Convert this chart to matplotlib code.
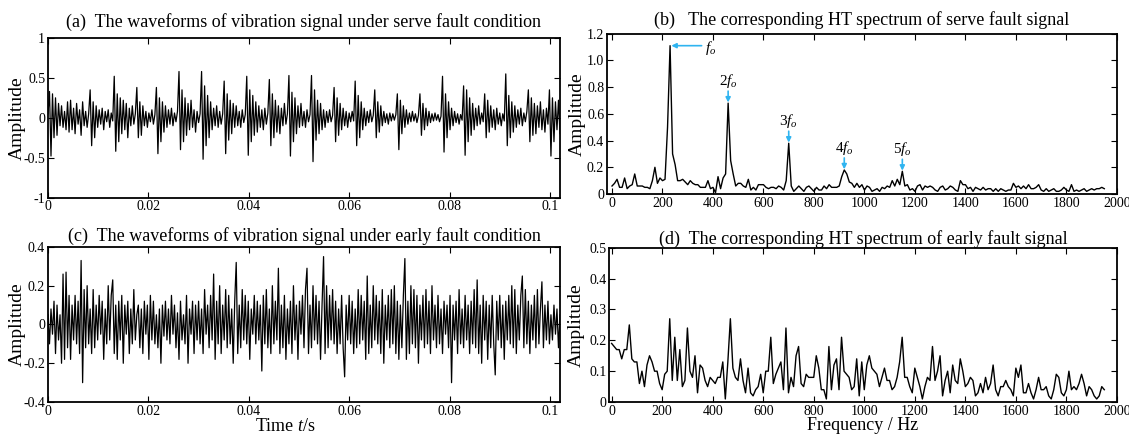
import matplotlib
matplotlib.use("Agg")
import matplotlib.pyplot as plt
import numpy as np

plt.rcParams['font.family'] = ['Liberation Serif', 'DejaVu Serif']
plt.rcParams['mathtext.fontset'] = 'custom'
plt.rcParams['mathtext.it'] = 'Liberation Serif:italic'
plt.rcParams['mathtext.rm'] = 'Liberation Serif'
plt.rcParams['axes.unicode_minus'] = False

# sampling step of the waveforms (s) and of the spectra (Hz)
dt = 0.0003
df = 10

# (a) serve fault waveform, hundredths
wave_serve = [
    5, 33, -48, 30, -25, 25, -22, 18, -10, 15, -12, 8, -15, 20, -18, 22, -15, 12, -20, 18, -8, 10, -22, 20, -10, 8, -12, 5,
    35, -35, 20, -25, 15, -12, 10, -8, 12, -15, 8, -5, 10, -12, 6, -4,
    52, -42, 30, -30, 25, -20, 22, -15, 18, -25, 12, -10, 15, -8, 5,
    38, -25, 20, -22, 15, -10, 8, -12, 6, -5, 10, -8, 4,
    38, -45, 25, -30, 20, -18, 15, -12, 10, -8, 12, -10, 6, -5, 8,
    58, -40, 35, -30, 25, -22, 18, -15, 22, -12, 10, -18, 8, -6, 5,
    58, -52, 40, -35, 28, -25, 20, -15, 12, -10, 15, -12, 8, -8, 5,
    46, -45, 30, -28, 22, -20, 18, -12, 15, -10, 8, -12, 10, -6, 4,
    52, -47, 35, -30, 28, -22, 20, -18, 15, -12, 10, -15, 12, -8, 6,
    48, -35, 30, -25, 22, -18, 15, -20, 12, -10, 18, -8, 5,
    53, -48, 32, -30, 25, -20, 15, -12, 18, -10, 8, -12, 10, -5, 4,
    53, -55, 35, -28, 22, -20, 18, -15, 10, -12, 8, -6, 10, -5, 3,
    38, -30, 25, -22, 18, -15, 12, -10, 8, -12, 6, -5, 8, -4,
    46, -35, 28, -25, 20, -15, 12, -10, 8, -6, 10, -5, 3,
    35, -25, 20, -18, 15, -10, 8, -6, 5, -8, 6, -4, 5, -3, 4,
    30, -40, 22, -20, 15, -12, 10, -8, 6, -5, 8, -4, 5, -6, 3,
    30, -22, 18, -15, 12, -10, 8, -6, 5, -4, 6, -3, 4, -5, 2,
    52, -43, 30, -25, 20, -15, 12, -10, 8, -6, 5, -8, 4, -3,
    40, -47, 35, -30, 25, -22, 18, -15, 12, -10, 15, -8, 6, -5,
    30, -25, 22, -18, 15, -12, 10, -15, 12, -8, 6, -10, 5, -4,
    55, -35, 28, -25, 20, -18, 15, -12, 10, -8, 12, -10, 6, -5, 8,
    35, -30, 25, -22, 18, -20, 15, -12, 20, -15, 10, -18, 12, -8,
    35, -48, 25, -30, 20, -15, 22, -20,
]

# (c) early fault waveform, hundredths
wave_early = [
    5, -10, 8, -5, 12, -15, 10, -8, 5, -20, 26, -18, 27, -12, 15, -18, 10, -8, 15, -10,
    12, -15, 33, -30, 18, -12, 20, -10, 8, -15, 18, -12, 10, -8, 15, -5, 12, -18, 8, -10,
    20, -8, 15, 23, -15, 10, -18, 12, -8, 15, -20, 10, -5, 12, -15, 8, -10, 18, -8, 5,
    10, -12, 8, -15, 12, -5, 10, -18, 15, -8, 12, -10, 5, -12, 8, -20, 10, -6, 12, -8,
    8, -10, 15, -5, 10, -12, 6, -18, 12, -8, 5, -10, 15, -20, 8, -5, 12, -15, 10, -8,
    12, -10, 8, -15, 18, -5, 10, -12, 15, -8, 26, -18, 12, -10, 20, -15, 10, -8, 18, -12,
    15, -10, 8, -20, 12, 32, -15, 10, -12, 18, -8, 15, -10, 12, -18, 8, -5, 15, -10, 12,
    -8, 10, -24, 15, -10, 18, -12, 8, -15, 20, -10, 12, -8, 29, -15, 10, -12, 15, -18, 8,
    -10, 12, -15, 20, -8, 10, -18, 12, -5, 15, -12, 18, 29, -15, 10, -12, 20, -8, 15, -10,
    12, -18, 10, 35, -15, 20, -12, 15, -8, 18, -10, 12, -15, 8, -10, 15, -12, -27, 10, -8,
    15, -10, 12, -15, 8, -12, 18, -10, 15, -8, 12, -18, 25, -15, 10, -12, 20, -8, 15, -10,
    12, -15, 18, -20, 10, -8, 15, -12, 18, -10, 20, -15, 12, -18, 10, -12, 15, 34, -18, 12,
    -15, 20, -10, 18, -12, 15, -20, 10, -8, 15, -12, 18, -10, 12, -15, 20, -8, 10, -12, 15,
    -10, 8, -15, 12, -5, 10, -12, 15, -30, 10, -8, 12, -15, 18, -10, 8, -12, 15, -8, 10,
    -15, 12, -10, 18, -12, 23, -15, 10, -20, 15, -8, 12, -18, 10, -12, 15, -10, -26, 12, -8,
    15, -12, 10, -18, 12, -8, 15, -10, 20, -12, 18, -15, 10, -8, 15, 25, -12, 18, -10, 12,
    -15, 10, -8, 15, -12, 18, -10, 8, 22, -12, 10, -8, 12, -10, 5, -8, 10, -5, 8, -12,
    5,
]

# (b) HT spectrum, serve fault (every 10 Hz from 0)
spec_serve = [
    0.06, 0.08, 0.11, 0.05, 0.05, 0.12, 0.04, 0.06, 0.07, 0.15,
    0.06, 0.06, 0.06, 0.05, 0.05, 0.04, 0.10, 0.20, 0.08, 0.12,
    0.10, 0.11, 0.50, 1.11, 0.30, 0.22, 0.10, 0.10, 0.11, 0.09,
    0.07, 0.10, 0.08, 0.07, 0.07, 0.05, 0.05, 0.05, 0.10, 0.04,
    0.05, 0.01, 0.13, 0.04, 0.12, 0.15, 0.68, 0.25, 0.15, 0.06,
    0.08, 0.08, 0.06, 0.05, 0.11, 0.03, 0.05, 0.03, 0.07, 0.07,
    0.07, 0.05, 0.04, 0.05, 0.05, 0.04, 0.06, 0.05, 0.03, 0.10,
    0.38, 0.06, 0.02, 0.04, 0.06, 0.04, 0.02, 0.05, 0.06, 0.04,
    0.02, 0.05, 0.03, 0.03, 0.06, 0.04, 0.07, 0.05, 0.05, 0.05,
    0.06, 0.13, 0.18, 0.15, 0.09, 0.08, 0.05, 0.08, 0.05, 0.07,
    0.03, 0.06, 0.05, 0.02, 0.03, 0.04, 0.02, 0.05, 0.04, 0.06,
    0.05, 0.10, 0.06, 0.11, 0.07, 0.17, 0.06, 0.07, 0.03, 0.04,
    0.02, 0.06, 0.07, 0.03, 0.06, 0.05, 0.06, 0.05, 0.03, 0.02,
    0.05, 0.06, 0.03, 0.04, 0.06, 0.05, 0.03, 0.02, 0.10, 0.07,
    0.07, 0.04, 0.05, 0.02, 0.05, 0.04, 0.03, 0.05, 0.03, 0.04,
    0.04, 0.02, 0.04, 0.02, 0.04, 0.03, 0.02, 0.03, 0.03, 0.08,
    0.05, 0.06, 0.04, 0.06, 0.04, 0.07, 0.04, 0.04, 0.05, 0.07,
    0.03, 0.02, 0.04, 0.02, 0.03, 0.04, 0.02, 0.02, 0.03, 0.05,
    0.03, 0.02, 0.07, 0.02, 0.03, 0.02, 0.03, 0.04, 0.02, 0.03,
    0.04, 0.03, 0.04, 0.04, 0.05, 0.04,
]

# (d) HT spectrum, early fault (every 10 Hz from 0)
spec_early = [
    0.19, 0.18, 0.17, 0.17, 0.14, 0.17, 0.17, 0.25, 0.14, 0.13,
    0.13, 0.06, 0.10, 0.05, 0.12, 0.15, 0.13, 0.10, 0.10, 0.06,
    0.04, 0.09, 0.10, 0.27, 0.07, 0.21, 0.07, 0.17, 0.05, 0.07,
    0.24, 0.10, 0.08, 0.15, 0.03, 0.12, 0.11, 0.07, 0.05, 0.08,
    0.07, 0.06, 0.08, 0.08, 0.13, 0.01, 0.13, 0.27, 0.11, 0.08,
    0.07, 0.14, 0.07, 0.03, 0.11, 0.03, 0.02, 0.04, 0.05, 0.09,
    0.03, 0.10, 0.10, 0.21, 0.06, 0.09, 0.11, 0.13, 0.04, 0.24,
    0.03, 0.08, 0.05, 0.15, 0.18, 0.06, 0.05, 0.09, 0.08, 0.08,
    0.08, 0.15, 0.11, 0.04, 0.04, 0.01, 0.18, 0.04, 0.12, 0.14,
    0.04, 0.21, 0.10, 0.09, 0.08, 0.04, 0.05, 0.14, 0.02, 0.13,
    0.04, 0.12, 0.15, 0.11, 0.10, 0.09, 0.05, 0.08, 0.11, 0.07,
    0.07, 0.04, 0.05, 0.08, 0.13, 0.21, 0.08, 0.08, 0.05, 0.03,
    0.11, 0.08, 0.05, 0.01, 0.05, 0.08, 0.07, 0.18, 0.07, 0.10,
    0.15, 0.02, 0.07, 0.10, 0.03, 0.12, 0.07, 0.06, 0.14, 0.10,
    0.05, 0.06, 0.08, 0.07, 0.02, 0.03, 0.06, 0.03, 0.08, 0.04,
    0.06, 0.12, 0.04, 0.02, 0.05, 0.05, 0.07, 0.05, 0.04, 0.02,
    0.11, 0.08, 0.12, 0.03, 0.03, 0.06, 0.03, 0.01, 0.04, 0.08,
    0.04, 0.04, 0.05, 0.02, 0.01, 0.04, 0.09, 0.08, 0.03, 0.02,
    0.04, 0.10, 0.04, 0.05, 0.04, 0.06, 0.09, 0.06, 0.02, 0.05,
    0.04, 0.02, 0.01, 0.02, 0.05, 0.04,
]

# harmonic labels in (b): (text, frequency, peak value)
harmonics = [("$2f_o$", 460, 0.68), ("$3f_o$", 700, 0.38),
             ("$4f_o$", 920, 0.18), ("$5f_o$", 1150, 0.17)]

titles = ["(a)  The waveforms of vibration signal under serve fault condition",
          "(b)   The corresponding HT spectrum of serve fault signal",
          "(c)  The waveforms of vibration signal under early fault condition",
          "(d)  The corresponding HT spectrum of early fault signal"]

arrow_c = '#2fb4f0'

fig = plt.figure(figsize=(11.29, 4.37), dpi=100)
ax_a = fig.add_axes([0.0425, 0.548, 0.4535, 0.365])
ax_b = fig.add_axes([0.5376, 0.556, 0.4517, 0.367])
ax_c = fig.add_axes([0.0425, 0.08, 0.4535, 0.355])
ax_d = fig.add_axes([0.5395, 0.08, 0.4498, 0.353])


def style(ax, lx):
    ax.tick_params(direction='in', top=True, right=True, labelsize=10,
                   length=4, width=0.8, pad=2)
    for s in ax.spines.values():
        s.set_linewidth(1.3)
    ax.set_ylabel("Amplitude", fontsize=14)
    ax.yaxis.set_label_coords(lx, 0.5)


ta = np.arange(len(wave_serve)) * dt
ax_a.plot(ta, np.array(wave_serve) / 100, color='black', lw=0.9)
ax_a.set_xlim(0, 0.102)
ax_a.set_ylim(-1, 1)
ax_a.set_xticks([0, 0.02, 0.04, 0.06, 0.08, 0.1])
ax_a.set_xticklabels(["0", "0.02", "0.04", "0.06", "0.08", "0.1"])
ax_a.set_yticks([-1, -0.5, 0, 0.5, 1])
ax_a.set_yticklabels(["-1", "-0.5", "0", "0.5", "1"])
style(ax_a, -0.043)
ax_a.set_title(titles[0], fontsize=13, pad=8)

tc = np.arange(len(wave_early)) * dt
ax_c.plot(tc, np.array(wave_early) / 100, color='black', lw=0.9)
ax_c.set_xlim(0, 0.102)
ax_c.set_ylim(-0.4, 0.4)
ax_c.set_xticks([0, 0.02, 0.04, 0.06, 0.08, 0.1])
ax_c.set_xticklabels(["0", "0.02", "0.04", "0.06", "0.08", "0.1"])
ax_c.set_yticks([-0.4, -0.2, 0, 0.2, 0.4])
ax_c.set_yticklabels(["-0.4", "-0.2", "0", "0.2", "0.4"])
style(ax_c, -0.043)
ax_c.set_title(titles[2], fontsize=13, pad=4)
ax_c.set_xlabel("Time $t$/s", fontsize=13)
ax_c.xaxis.set_label_coords(0.463, -0.1)

fb = np.arange(len(spec_serve)) * df
ax_b.plot(fb, spec_serve, color='black', lw=1.0)
ax_b.set_xlim(-20, 2000)
ax_b.set_ylim(0, 1.2)
ax_b.set_xticks(range(0, 2001, 200))
ax_b.set_yticks([0, 0.2, 0.4, 0.6, 0.8, 1.0, 1.2])
ax_b.set_yticklabels(["0", "0.2", "0.4", "0.6", "0.8", "1.0", "1.2"])
style(ax_b, -0.042)
ax_b.set_title(titles[1], fontsize=13, pad=6)
ax_b.annotate("", xy=(235, 1.11), xytext=(355, 1.11),
              arrowprops=dict(arrowstyle='-|>', color=arrow_c, lw=1.2,
                              mutation_scale=7, shrinkA=0, shrinkB=0))
ax_b.text(370, 1.09, "$f_o$", fontsize=11, va='center', ha='left')
for lab, f, v in harmonics:
    ax_b.annotate("", xy=(f, v + 0.005), xytext=(f, v + 0.09),
                  arrowprops=dict(arrowstyle='-|>', color=arrow_c, lw=1.2,
                                  mutation_scale=7, shrinkA=0, shrinkB=0))
    ax_b.text(f, v + 0.1, lab, fontsize=11, ha='center', va='bottom')

fd = np.arange(len(spec_early)) * df
ax_d.plot(fd, spec_early, color='black', lw=1.0)
ax_d.set_xlim(-10, 2000)
ax_d.set_ylim(0, 0.5)
ax_d.set_xticks(range(0, 2001, 200))
ax_d.set_yticks([0, 0.1, 0.2, 0.3, 0.4, 0.5])
ax_d.set_yticklabels(["0", "0.1", "0.2", "0.3", "0.4", "0.5"])
style(ax_d, -0.047)
ax_d.set_title(titles[3], fontsize=13, pad=3)
ax_d.set_xlabel("Frequency / Hz", fontsize=13)
ax_d.xaxis.set_label_coords(0.5, -0.1)

fig.savefig("out.png", dpi=100)
